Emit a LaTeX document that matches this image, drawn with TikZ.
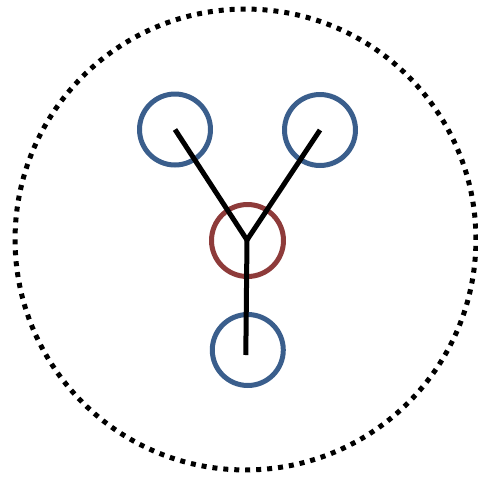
\documentclass[tikz,border=0pt]{standalone}
\usepackage{tikz}
\usetikzlibrary{positioning}
\definecolor{ringblue}{HTML}{3A5E8C}
\definecolor{ringred}{HTML}{8E3B3A}
\tikzset{
    leaf/.style={circle, draw=ringblue, line width=0.1cm, inner sep=0pt, minimum size=1.42cm},
    hub/.style={circle, draw=ringred, line width=0.1cm, inner sep=0pt, minimum size=1.44cm},
    bond/.style={line width=0.1cm, line join=miter},
    shell/.style={line width=0.1cm, dash pattern=on 0.1cm off 0.1194cm}
}

\begin{document}
\begin{tikzpicture}[x=0.02cm, y=-0.02cm]
    \useasboundingbox (0,0) rectangle (478,478);

    % outer dotted boundary
    \node[circle, shell, draw, inner sep=0pt, minimum size=9.22cm] (outer) at (245.5,239.5) {};

    % rings
    \node[hub] (center) at (247.5,240.5) {};
    \node[leaf] (upleft) at (175,129.5) {};
    \node[leaf] (upright) at (320,130) {};
    \node[leaf] (down) at (247.8,350) {};
    \coordinate (tail) at (245.8,355);

    % branches
    \draw[bond] (upleft.center) -- (247,240) -- (upright.center);
    \draw[bond] (247,240) -- (tail);
\end{tikzpicture}
\end{document}
